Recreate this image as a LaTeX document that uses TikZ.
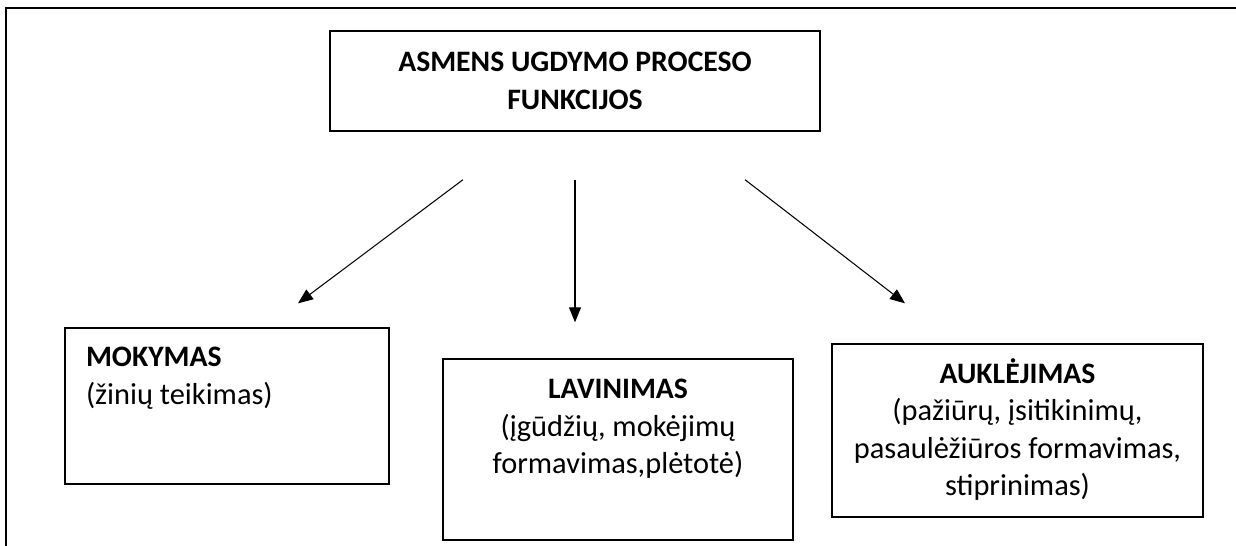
\documentclass[tikz,border=0pt]{standalone}
\usepackage{fontspec}
\setmainfont{Carlito}
\usetikzlibrary{arrows.meta,positioning,calc}

\newcommand{\boxhead}[1]{{\fontsize{16.9}{21.3}\selectfont\bfseries #1}}

\begin{document}
\begin{tikzpicture}[x=0.02cm,y=-0.02cm,
   every node/.style={font=\fontsize{17.3}{21.3}\selectfont},
   funcbox/.style={draw,line width=0.8pt,inner sep=0pt},
   flow/.style={-{Triangle[length=0.3cm,width=0.24cm]},line width=0.6pt}]

\useasboundingbox (0,0) rectangle (1236,546);

% page frame (only top and left edge are visible)
\draw[line width=1pt] (1250,8) -- (6,8) -- (6,560);

\node[funcbox,minimum width=9.8cm,minimum height=2cm,align=center] (proc) at (575,81)
   {\boxhead{ASMENS UGDYMO PROCESO}\\\boxhead{FUNKCIJOS}};

\node[funcbox] (mok) at (227,406)
   {\parbox[c][3.12cm][t]{6.48cm}{\vspace*{0.25cm}\leftskip=0.42cm
    \strut\boxhead{MOKYMAS}\\(žinių teikimas)}};
\node[funcbox] (lav) at (618,449.5)
   {\parbox[c][3.62cm][t]{7cm}{\vspace*{0.27cm}\centering
    \strut\boxhead{LAVINIMAS}\\(įgūdžių, mokėjimų\\formavimas,plėtotė)}};
\node[funcbox] (auk) at (1017.5,430.5)
   {\parbox[c][3.46cm][t]{7.42cm}{\vspace*{0.26cm}\centering
    \strut\boxhead{AUKLĖJIMAS}\\(pažiūrų, įsitikinimų,\\pasaulėžiūros formavimas,\\stiprinimas)}};

% arrow ends
\coordinate (l0) at ($(proc.south)+(-112,48)$);
\coordinate (m0) at ($(proc.south)+(0,48)$);
\coordinate (r0) at ($(proc.south)+(170,48)$);
\coordinate (l1) at ($(mok.north)+(71,-24)$);
\coordinate (m1) at ($(lav.north)+(-43,-36)$);
\coordinate (r1) at ($(auk.north)+(-112.5,-40)$);

\draw[flow] (l0) -- (l1);
\draw[flow] (m0) -- (m1);
\draw[flow] (r0) -- (r1);

\end{tikzpicture}
\end{document}
